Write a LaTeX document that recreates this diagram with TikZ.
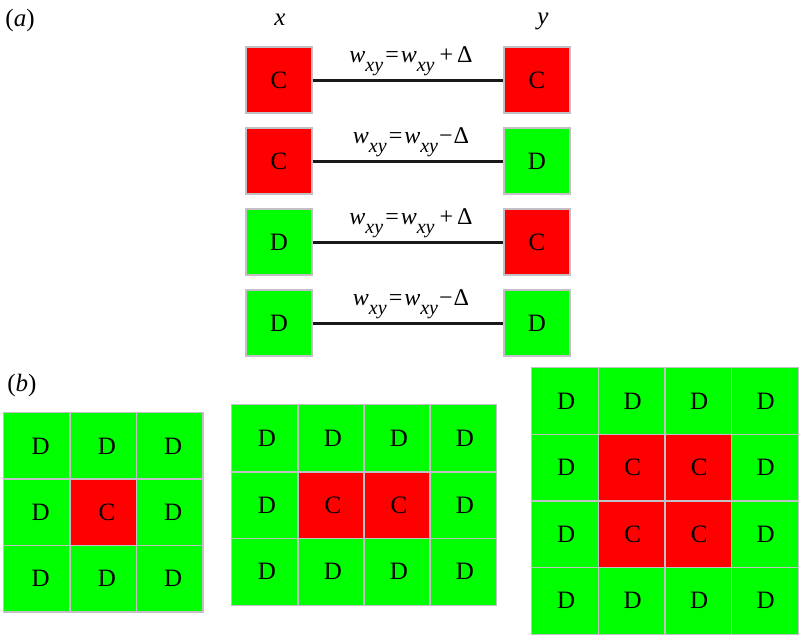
\documentclass[tikz,border=0pt]{standalone}
\usepackage{fontspec}
\setmainfont{Liberation Serif}
\definecolor{cred}{RGB}{255,0,0}
\definecolor{cgreen}{RGB}{0,255,0}
\definecolor{cellgray}{RGB}{196,190,198}
\newcommand{\wxy}{\textit{w}\raisebox{-9pt}{\fontsize{20}{24}\selectfont\textit{xy}}}
\begin{document}
\begin{tikzpicture}[x=1pt,y=-1pt,
  every node/.style={font=\fontsize{25}{29}\selectfont},
  cell/.style={inner sep=0pt, anchor=center},
  ccell/.style={cell, fill=cred},
  dcell/.style={cell, fill=cgreen},
  border/.style={draw=cellgray, line width=1.3pt},
  abox/.style={minimum width=66pt, minimum height=66pt, draw=cellgray, line width=1.3pt},
  link/.style={line width=3pt, black!90},
  eqlabel/.style={inner sep=0pt, anchor=center, font=\fontsize{24}{28}\selectfont},
  panel/.style={inner sep=0pt, anchor=center}]
\useasboundingbox (0,0) rectangle (799,635);

% panel labels
\node[panel] (la) at (20,20) {(\textit{a})};
\node[panel] (lb) at (22,385) {(\textit{b})};
\node[panel] (lx) at (280,20) {\textit{x}};
\node[panel] (ly) at (543,21) {\textit{y}};

% part (a)
\node[ccell,abox] (x1) at (279,80) {C};
\node[ccell,abox] (y1) at (537,80) {C};
\node[ccell,abox] (x2) at (279,161) {C};
\node[dcell,abox] (y2) at (537,161) {D};
\node[dcell,abox] (x3) at (279,242) {D};
\node[ccell,abox] (y3) at (537,242) {C};
\node[dcell,abox] (x4) at (279,323) {D};
\node[dcell,abox] (y4) at (537,323) {D};

\draw[link] (x1) -- (y1);
\draw[link] (x2) -- (y2);
\draw[link] (x3) -- (y3);
\draw[link] (x4) -- (y4);

\node[eqlabel] (e1) at (411,61) {\wxy\hspace{2pt}=\hspace{2pt}\wxy\hspace{5pt}+\hspace{4pt}Δ};
\node[eqlabel] (e2) at (411,142) {\wxy\hspace{2pt}=\hspace{2pt}\wxy\hspace{1pt}−\hspace{1pt}Δ};
\node[eqlabel] (e3) at (411,223) {\wxy\hspace{2pt}=\hspace{2pt}\wxy\hspace{5pt}+\hspace{4pt}Δ};
\node[eqlabel] (e4) at (411,304) {\wxy\hspace{2pt}=\hspace{2pt}\wxy\hspace{1pt}−\hspace{1pt}Δ};

% part (b), grid 1: 3x3
\foreach \r in {0,1,2}{
  \foreach \c in {0,1,2}{
    \pgfmathtruncatemacro{\isc}{(\r==1 && \c==1) ? 1 : 0}
    \ifnum\isc=1
      \node[ccell, minimum width=66.3pt, minimum height=66.3pt] (ga-\r-\c) at ({4+66.3*\c+33.15},{413+66.3*\r+33.15}) {\hspace*{7pt}C};
    \else
      \node[dcell, minimum width=66.3pt, minimum height=66.3pt] (ga-\r-\c) at ({4+66.3*\c+33.15},{413+66.3*\r+33.15}) {\hspace*{7pt}D};
    \fi
  }
}
\foreach \r in {0,1,2}{
  \foreach \c in {0,1,2}{
    \draw[border] (ga-\r-\c.south west) rectangle (ga-\r-\c.north east);
  }
}

% grid 2: 3 rows x 4 cols
\foreach \r in {0,1,2}{
  \foreach \c in {0,1,2,3}{
    \pgfmathtruncatemacro{\isc}{(\r==1 && (\c==1 || \c==2)) ? 1 : 0}
    \ifnum\isc=1
      \node[ccell, minimum width=66pt, minimum height=66.7pt] (gb-\r-\c) at ({232+66*\c+33},{405+66.7*\r+33.35}) {\hspace*{4pt}C};
    \else
      \node[dcell, minimum width=66pt, minimum height=66.7pt] (gb-\r-\c) at ({232+66*\c+33},{405+66.7*\r+33.35}) {\hspace*{4pt}D};
    \fi
  }
}
\foreach \r in {0,1,2}{
  \foreach \c in {0,1,2,3}{
    \draw[border] (gb-\r-\c.south west) rectangle (gb-\r-\c.north east);
  }
}

% grid 3: 4x4
\foreach \r in {0,1,2,3}{
  \foreach \c in {0,1,2,3}{
    \pgfmathtruncatemacro{\isc}{((\r==1 || \r==2) && (\c==1 || \c==2)) ? 1 : 0}
    \ifnum\isc=1
      \node[ccell, minimum width=66.5pt, minimum height=66.5pt] (gc-\r-\c) at ({532+66.5*\c+33.25},{368+66.5*\r+33.25}) {\hspace*{2pt}C};
    \else
      \node[dcell, minimum width=66.5pt, minimum height=66.5pt] (gc-\r-\c) at ({532+66.5*\c+33.25},{368+66.5*\r+33.25}) {\hspace*{2pt}D};
    \fi
  }
}
\foreach \r in {0,1,2,3}{
  \foreach \c in {0,1,2,3}{
    \draw[border] (gc-\r-\c.south west) rectangle (gc-\r-\c.north east);
  }
}
\end{tikzpicture}
\end{document}
